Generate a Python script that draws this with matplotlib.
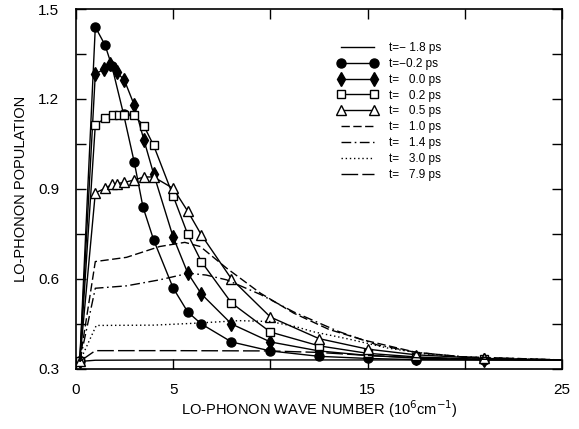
import matplotlib
matplotlib.use("Agg")
import matplotlib.pyplot as plt
from matplotlib.ticker import FixedLocator

plt.rcParams['font.family'] = ['Liberation Sans', 'DejaVu Sans']

# valeurs (k en 10^6 cm^-1, population)
k_m18 = [0.2, 1.0, 5.0, 10.0, 15.0, 20.0, 25.0]
n_m18 = [0.325, 0.329, 0.33, 0.33, 0.33, 0.33, 0.33]

k_m02 = [0.2, 1.0, 1.5, 1.85, 2.45, 3.0, 3.45, 4.0, 5.0, 5.75, 6.45, 8.0, 10.0, 12.5, 15.0, 17.5, 21.0, 25.0]
n_m02 = [0.325, 1.44, 1.38, 1.31, 1.15, 0.99, 0.84, 0.73, 0.57, 0.49, 0.45, 0.39, 0.36, 0.342, 0.335, 0.331, 0.33, 0.33]

k_00 = [0.2, 1.0, 1.45, 1.75, 2.1, 2.5, 3.0, 3.5, 4.0, 5.0, 5.75, 6.45, 8.0, 10.0, 12.5, 15.0, 17.5, 21.0, 25.0]
n_00 = [0.325, 1.283, 1.30, 1.318, 1.29, 1.262, 1.18, 1.063, 0.95, 0.74, 0.62, 0.55, 0.45, 0.39, 0.36, 0.345, 0.336, 0.331, 0.33]

k_02 = [0.2, 1.0, 1.5, 1.9, 2.2, 2.5, 3.0, 3.5, 4.0, 5.0, 5.75, 6.45, 8.0, 10.0, 12.5, 15.0, 17.5, 21.0, 25.0]
n_02 = [0.325, 1.113, 1.136, 1.147, 1.148, 1.148, 1.145, 1.11, 1.045, 0.877, 0.749, 0.658, 0.52, 0.423, 0.377, 0.352, 0.34, 0.332, 0.33]

k_05 = [0.2, 1.0, 1.5, 1.85, 2.1, 2.5, 3.0, 3.5, 4.0, 5.0, 5.75, 6.45, 8.0, 10.0, 12.5, 15.0, 17.5, 21.0, 25.0]
n_05 = [0.325, 0.887, 0.902, 0.915, 0.918, 0.922, 0.93, 0.94, 0.94, 0.902, 0.826, 0.747, 0.60, 0.473, 0.401, 0.366, 0.347, 0.335, 0.33]

k_10 = [0.2, 1.0, 2.6, 4.3, 5.6, 6.4, 7.75, 9.5, 11.2, 13.0, 14.75, 17.45, 19.7, 25.0]
n_10 = [0.325, 0.658, 0.672, 0.708, 0.722, 0.708, 0.636, 0.552, 0.486, 0.432, 0.397, 0.356, 0.341, 0.33]

k_14 = [0.2, 1.0, 2.6, 4.3, 5.8, 6.7, 7.75, 9.5, 11.2, 13.5, 15.5, 17.5, 20.0, 25.0]
n_14 = [0.325, 0.569, 0.577, 0.597, 0.619, 0.613, 0.597, 0.548, 0.49, 0.425, 0.38, 0.355, 0.34, 0.33]

k_30 = [0.2, 1.05, 4.0, 6.0, 8.4, 10.0, 11.3, 12.2, 14.0, 16.0, 18.0, 21.0, 25.0]
n_30 = [0.325, 0.445, 0.446, 0.452, 0.461, 0.458, 0.441, 0.424, 0.40, 0.37, 0.35, 0.335, 0.33]

k_79 = [0.2, 1.0, 5.0, 10.0, 12.5, 15.0, 18.0, 21.0, 25.0]
n_79 = [0.325, 0.361, 0.361, 0.36, 0.355, 0.345, 0.336, 0.332, 0.33]

labels = ["t=\u2212 1.8 ps", "t=\u22120.2 ps", "t=   0.0 ps", "t=   0.2 ps", "t=   0.5 ps",
          "t=   1.0 ps", "t=   1.4 ps", "t=   3.0 ps", "t=   7.9 ps"]

x_ticks = [0, 5, 10, 15, 20, 25]
x_ticklabels = ['0', '5', '', '15', '', '25']
y_ticks = [0.3, 0.6, 0.9, 1.2, 1.5]
y_minor = [0.45, 0.75, 1.05, 1.35]

fig = plt.figure(figsize=(5.79, 4.29), dpi=100)
ax = fig.add_axes([0.131, 0.140, 0.840, 0.839])

lw = 1.0
sans_der = slice(0, -1)  # pas de marqueur sur le dernier point (k=25)
ax.plot(k_m18, n_m18, color='black', lw=lw, label=labels[0])
ax.plot(k_m02, n_m02, color='black', lw=lw, marker='o', ms=6.5, mfc='black',
        markevery=sans_der, label=labels[1])
ax.plot(k_00, n_00, color='black', lw=lw, marker='d', ms=7.5, mfc='black',
        markevery=sans_der, label=labels[2])
ax.plot(k_02, n_02, color='black', lw=lw, marker='s', ms=6, mfc='white', mew=1.0,
        markevery=sans_der, label=labels[3])
ax.plot(k_05, n_05, color='black', lw=lw, marker='^', ms=7.5, mfc='white', mew=1.0,
        markevery=sans_der, label=labels[4])
ax.plot(k_10, n_10, color='black', lw=lw, ls=(0, (6, 2.5)), label=labels[5])
ax.plot(k_14, n_14, color='black', lw=lw, ls=(0, (7, 2.5, 1.2, 2.5)), label=labels[6])
ax.plot(k_30, n_30, color='black', lw=lw, ls=(0, (1, 2)), label=labels[7])
ax.plot(k_79, n_79, color='black', lw=lw, ls=(0, (12, 3)), label=labels[8])

ax.set_xlim(0, 25)
ax.set_ylim(0.3, 1.5)

ax.xaxis.set_major_locator(FixedLocator(x_ticks))
ax.set_xticklabels(x_ticklabels)
ax.yaxis.set_major_locator(FixedLocator(y_ticks))
ax.yaxis.set_minor_locator(FixedLocator(y_minor))
ax.set_yticklabels([f"{v:.1f}" for v in y_ticks])

ax.tick_params(which='both', direction='in', top=True, right=True, length=7, width=1)
ax.tick_params(axis='x', pad=10, labelsize=11)
ax.tick_params(axis='y', pad=12, labelsize=11)
for s in ax.spines.values():
    s.set_linewidth(1.2)

ax.set_xlabel("LO-PHONON WAVE NUMBER (10$^6$cm$^{-1}$)", fontsize=10.5, labelpad=1)
ax.set_ylabel("LO-PHONON POPULATION", fontsize=10.5, labelpad=7)

ax.legend(loc='upper left', bbox_to_anchor=(0.525, 0.925), frameon=False, fontsize=8.5,
          numpoints=2, handlelength=3.4, handletextpad=1.0, labelspacing=0.33,
          borderpad=0)

plt.savefig("out.png", dpi=100)
